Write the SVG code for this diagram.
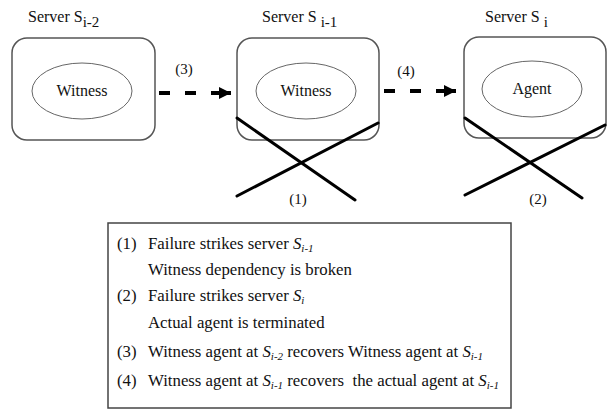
<svg xmlns="http://www.w3.org/2000/svg" width="608" height="411" viewBox="0 0 608 411" font-family="'Liberation Serif', 'DejaVu Serif', serif">
  <defs>
    <marker id="head" viewBox="0 0 10 10" refX="10" refY="5" markerWidth="3" markerHeight="3.2" orient="auto" markerUnits="strokeWidth">
      <path d="M0,0 L10,5 L0,10 Z" fill="#000"/>
    </marker>
    <style>
      text { font-family: "Liberation Serif", "DejaVu Serif", serif; fill: #111; }
      .title { font-size: 16px; }
      .sub { font-size: 15px; }
      .label { font-size: 15px; text-anchor: middle; }
      .inner { font-size: 16px; text-anchor: middle; }
      .server { fill: #fff; stroke: #555; stroke-width: 1.5; }
      .proc { fill: #fff; stroke: #666; stroke-width: 1; }
      .fail { stroke: #000; stroke-width: 3; stroke-linecap: round; }
      .flow { stroke: #000; stroke-width: 4; stroke-dasharray: 11 15; fill: none; }
      .legend { font-size: 16.8px; }
      .it { font-style: italic; }
      .isub { font-size: 11px; font-style: italic; }
    </style>
  </defs>

  <rect width="608" height="411" fill="#fff"/>

  <!-- Server S(i-2) -->
  <g id="server-i-2">
    <text class="title" x="28" y="22">Server S<tspan class="sub" dy="5">i-2</tspan></text>
    <rect class="server" x="12" y="38" width="143" height="102" rx="15"/>
    <ellipse class="proc" cx="82" cy="91" rx="50" ry="28"/>
    <text class="inner" x="82" y="96">Witness</text>
  </g>

  <!-- Server S(i-1) -->
  <g id="server-i-1">
    <text class="title" x="262" y="22">Server S <tspan class="sub" dy="5">i-1</tspan></text>
    <rect class="server" x="237" y="38" width="142" height="102" rx="15"/>
    <ellipse class="proc" cx="306" cy="91" rx="50" ry="28"/>
    <text class="inner" x="306" y="96">Witness</text>
  </g>

  <!-- Server S(i) -->
  <g id="server-i">
    <text class="title" x="485" y="22">Server S <tspan class="sub" dy="5">i</tspan></text>
    <rect class="server" x="464" y="37" width="142" height="101" rx="15"/>
    <ellipse class="proc" cx="532" cy="89" rx="50" ry="28"/>
    <text class="inner" x="532" y="94">Agent</text>
  </g>

  <!-- connectors: recovery flows and failure marks -->
  <g id="connectors">
    <line class="flow" x1="159" y1="93" x2="222" y2="93"/>
    <line x1="212" y1="93" x2="231" y2="93" stroke="#000" stroke-width="4" marker-end="url(#head)"/>
    <text class="label" x="184" y="74">(3)</text>

    <line class="flow" x1="384" y1="91" x2="447" y2="91"/>
    <line x1="437" y1="91" x2="456" y2="91" stroke="#000" stroke-width="4" marker-end="url(#head)"/>
    <text class="label" x="406" y="76">(4)</text>

    <line class="fail" x1="237" y1="118" x2="355" y2="200"/>
    <line class="fail" x1="237" y1="196" x2="378" y2="123"/>
    <text class="label" x="298" y="204">(1)</text>

    <line class="fail" x1="465" y1="118" x2="582" y2="198"/>
    <line class="fail" x1="465" y1="195" x2="605" y2="125"/>
    <text class="label" x="538" y="204">(2)</text>
  </g>

  <!-- legend -->
  <g id="legend">
    <rect x="108" y="223" width="403" height="185" fill="#fff" stroke="#444" stroke-width="1.5"/>
    <text class="legend" x="117" y="249">(1)</text>
    <text class="legend" x="148" y="249">Failure strikes server <tspan class="it">S</tspan><tspan class="isub" dy="3">i-1</tspan></text>
    <text class="legend" x="148" y="275">Witness dependency is broken</text>
    <text class="legend" x="117" y="301">(2)</text>
    <text class="legend" x="148" y="301">Failure strikes server <tspan class="it">S</tspan><tspan class="isub" dy="3">i</tspan></text>
    <text class="legend" x="148" y="328">Actual agent is terminated</text>
    <text class="legend" x="117" y="357">(3)</text>
    <text class="legend" x="148" y="357">Witness agent at <tspan class="it">S</tspan><tspan class="isub" dy="3">i-2</tspan><tspan dy="-3"> recovers Witness agent at </tspan><tspan class="it">S</tspan><tspan class="isub" dy="3">i-1</tspan></text>
    <text class="legend" x="117" y="386">(4)</text>
    <text class="legend" x="148" y="386">Witness agent at <tspan class="it">S</tspan><tspan class="isub" dy="3">i-1</tspan><tspan dy="-3"> recovers&#160; the actual agent at </tspan><tspan class="it">S</tspan><tspan class="isub" dy="3">i-1</tspan></text>
  </g>
</svg>
